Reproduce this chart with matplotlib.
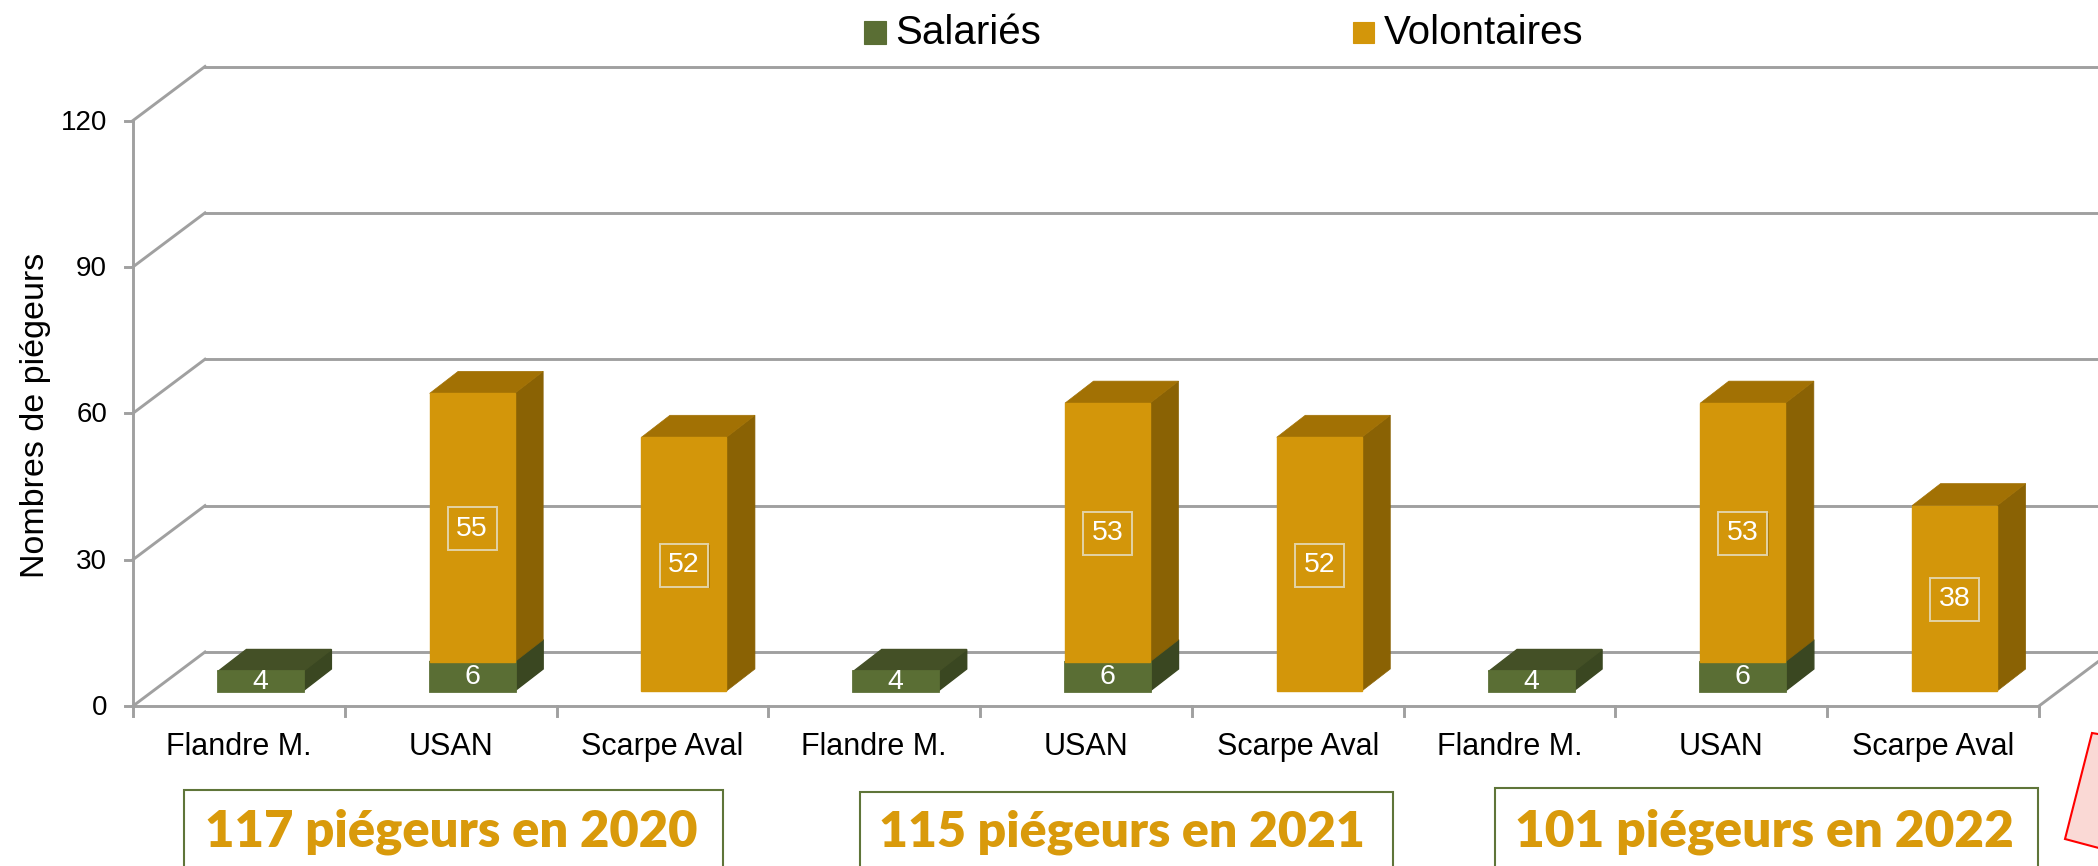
import matplotlib
matplotlib.use("Agg")
import matplotlib.pyplot as plt
import matplotlib.patheffects as pe
from matplotlib.patches import Polygon, Rectangle

W, H = 2098, 866

# Data
groups = ["Flandre M.", "USAN", "Scarpe Aval"] * 3
salaries = [4, 6, 0, 4, 6, 0, 4, 6, 0]
volontaires = [0, 55, 52, 0, 53, 52, 0, 53, 38]
y_ticks = [0, 30, 60, 90, 120]
year_labels = ["117 piégeurs en 2020", "115 piégeurs en 2021", "101 piégeurs en 2022"]
series_names = ["Salariés", "Volontaires"]

GREEN = ("#5A6E34", "#3A4721", "#445026")
GOLD = ("#D3960A", "#8A6204", "#A27104")
GRID = "#A0A0A0"
TITLE_GOLD = "#D99A0B"

plt.rcParams["font.family"] = ["Liberation Sans", "DejaVu Sans"]

fig = plt.figure(figsize=(W / 100, H / 100), dpi=100, facecolor="white")


def px(x, y):
    """pixel position in the image -> figure fraction"""
    return x / W, 1 - y / H


# front plane of the 3D box: x 133-2039 px, y 706 (0) to 120 (120)
ax = fig.add_axes([133 / W, 1 - 706 / H, (2039 - 133) / W, (706 - 120.5) / H])
ax.set_xlim(0, 9)
ax.set_ylim(0, 120)
ax.axis("off")

# depth of the box and of the bars, in data units
unit_x = (2039 - 133) / 9
unit_y = (706 - 120.5) / 120
wall_dx, wall_dy = 72 / unit_x, 54 / unit_y
floor_dx, floor_dy = 21.5 / unit_x, 15 / unit_y
bar_w = 85 / unit_x
bar_dx, bar_dy = 28.5 / unit_x, 22 / unit_y
lw = 2.1

# walls
for t in y_ticks:
    ax.plot([0, wall_dx], [t, t + wall_dy], color=GRID, lw=lw, clip_on=False, zorder=1)
    ax.plot([wall_dx, 9 + wall_dx], [t + wall_dy] * 2, color=GRID, lw=lw, clip_on=False, zorder=1)
    ax.plot([-8 / unit_x, 0], [t, t], color=GRID, lw=lw, clip_on=False, zorder=1)
    ax.text(-26 / unit_x, t - 2 / unit_y, str(t), ha="right", va="center", fontsize=20, color="black")
ax.plot([0, 0], [0, 120], color=GRID, lw=lw, clip_on=False, zorder=1)
ax.plot([9, 9 + wall_dx], [0, wall_dy], color=GRID, lw=lw, clip_on=False, zorder=1)
ax.plot([0, 9], [0, 0], color=GRID, lw=lw, clip_on=False, zorder=6)
for i in range(10):
    ax.plot([i, i], [0, -10 / unit_y], color=GRID, lw=lw, clip_on=False, zorder=6)
for i, name in enumerate(groups):
    ax.text(i + 0.5, -41 / unit_y, name, ha="center", va="center", fontsize=22, color="black")


def draw_bar(x0, bottom, height, colors, z, edge):
    """one 3D bar segment: front, side and top faces"""
    x1 = x0 + bar_w
    top = bottom + height
    ax.bar(x0, height, bar_w, bottom=bottom, align="edge", color=colors[0],
           edgecolor=colors[0], lw=edge, zorder=z + 0.2, clip_on=False)
    ax.fill([x1, x1 + bar_dx, x1 + bar_dx, x1],
            [bottom, bottom + bar_dy, top + bar_dy, top],
            color=colors[1], lw=edge / 2, zorder=z, clip_on=False)
    ax.fill([x0, x0 + bar_dx, x1 + bar_dx, x1],
            [top, top + bar_dy, top + bar_dy, top],
            color=colors[2], lw=edge / 2, zorder=z, clip_on=False)


for i, (s, v) in enumerate(zip(salaries, volontaires)):
    x0 = i + 0.5 + floor_dx - bar_w / 2
    xc = x0 + bar_w / 2
    if s:
        draw_bar(x0, floor_dy, s, GREEN, 3, 2)
        ax.text(xc, floor_dy + s / 2 - 0.1, str(s), ha="center", va="center",
                fontsize=20.5, color="white", zorder=5)
    if v:
        draw_bar(x0, floor_dy + s, v, GOLD, 4.5 if s else 3, 1)
        lab = ax.text(xc, floor_dy + s + v / 2 - 0.2, str(v), ha="center", va="center",
                      fontsize=20.5, color="white", zorder=5,
                      bbox=dict(boxstyle="square,pad=0.3", fc=GOLD[0], ec="#E3D3A6", lw=1.4))
        lab.get_bbox_patch().set_path_effects(
            [pe.SimplePatchShadow(offset=(1, -1), alpha=0.25), pe.Normal()])

# axis title
fig.text(*px(36, 415), "Nombres de piégeurs", rotation=90, ha="center", va="center",
         fontsize=24.5, color="black")

# legend
for (x0, x1, y0, y1), col, name, tx in zip(
        [(864, 886, 21, 44), (1353, 1374, 22, 43)], [GREEN[0], GOLD[0]], series_names, [895, 1384]):
    fig.add_artist(Rectangle(px(x0, y1), (x1 - x0) / W, (y1 - y0) / H, transform=fig.transFigure,
                             fc=col, ec=col, lw=0.8))
    fig.text(*px(tx, 33), name, ha="left", va="center", fontsize=29, color="black")

# year boxes
for (x0, x1, y0), cx, size, label in zip(
        [(184, 723, 790), (860, 1393, 792), (1495, 2038, 788)], [451, 1122, 1764],
        [36.5, 36, 37], year_labels):
    fig.add_artist(Rectangle(px(x0, 880), (x1 - x0) / W, (880 - y0) / H, transform=fig.transFigure,
                             fc="white", ec="#5F7539", lw=1.5))
    fig.text(*px(cx, 832), label, ha="center", va="center", fontsize=size,
             fontfamily="Lato", fontweight="heavy", color=TITLE_GOLD)

# cropped red note in the corner
fig.add_artist(Polygon([px(2092, 733), px(2110, 736), px(2110, 851), px(2065, 839)],
                       closed=True, transform=fig.transFigure, fc="#FAD9D5", ec="#FF0000", lw=1.5))

fig.savefig("out.png", dpi=100)
